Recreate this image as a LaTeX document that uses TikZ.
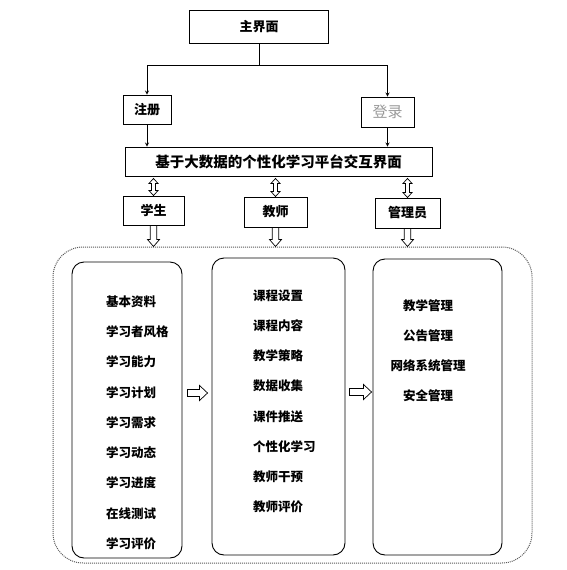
\documentclass[tikz,border=0pt]{standalone}
\usepackage{fontspec}
\setmainfont{Noto Sans CJK SC}
\usepackage{tikz}
\usetikzlibrary{shapes,arrows,positioning,calc}

\begin{document}
\begin{tikzpicture}[x=1pt, y=-1pt]
\tikzstyle{box} = [rectangle, draw, line width=0.9pt, inner sep=0pt, font=\bfseries\fontsize{13}{15}\selectfont]
\tikzstyle{panel} = [rectangle, draw, line width=0.9pt, rounded corners=12pt]
\tikzstyle{items} = [inner sep=0pt, align=left, font=\bfseries\fontsize{12.5}{30.25}\selectfont]
\tikzstyle{arrow} = [line width=0.8pt,->,>=stealth]
\tikzstyle{updown} = [line width=0.7pt, to path={let \p1=(\tikztostart), \p2=(\tikztotarget) in
  (\x1,\y1-2pt) -- (\x1+4.5pt,\y1-7pt) -- (\x1+2pt,\y1-7pt) -- (\x1+2pt,\y2+5pt) -- (\x1+4.5pt,\y2+5pt) -- (\x1,\y2)
  -- (\x1-4.5pt,\y2+5pt) -- (\x1-2pt,\y2+5pt) -- (\x1-2pt,\y1-7pt) -- (\x1-4.5pt,\y1-7pt) -- cycle}]
\tikzstyle{downblock} = [line width=0.7pt, to path={let \p1=(\tikztostart), \p2=(\tikztotarget) in
  (\x1-3.3pt,\y1) -- (\x1-3.3pt,\y2+7pt) -- (\x1-6pt,\y2+7pt) -- (\x1,\y2) -- (\x1+6pt,\y2+7pt) -- (\x1+3.3pt,\y2+7pt) -- (\x1+3.3pt,\y1) -- cycle}]
\tikzstyle{rightblock} = [line width=0.7pt, to path={let \p1=(\tikztostart), \p2=(\tikztotarget) in
  (\x1,\y1+3.5pt) -- (\x2-8pt,\y1+3.5pt) -- (\x2-8pt,\y1+7.5pt) -- (\x2,\y1) -- (\x2-8pt,\y1-7.5pt) -- (\x2-8pt,\y1-3.5pt) -- (\x1,\y1-3.5pt) -- cycle}]

\useasboundingbox (0,0) rectangle (566,570);

% top part
\node[box, minimum width=139pt, minimum height=33pt] (main) at (259,26.5) {主界面};
\node[box, minimum width=48pt, minimum height=29pt] (reg) at (147,109.5) {注册};
\node[box, minimum width=53pt, minimum height=30pt, font=\fontsize{15}{17}\selectfont, text=gray!80] (login) at (387.5,112) {登录};
\node[box, minimum width=307pt, minimum height=29pt, font=\bfseries\fontsize{14.5}{17}\selectfont] (big) at (278.5,161.5) {基于大数据的个性化学习平台交互界面};

% roles
\node[box, minimum width=61pt, minimum height=29pt] (stu) at (153.5,210.5) {学生};
\node[box, minimum width=63pt, minimum height=30pt] (tea) at (275.5,212) {教师};
\node[box, minimum width=65pt, minimum height=30pt] (adm) at (407.5,213) {管理员};

% function panels
\node[draw=gray!70!black, densely dotted, line width=1pt, rounded corners=30pt, minimum width=479pt, minimum height=316pt] (outer) at (292.5,405) {};
\node[panel, minimum width=110pt, minimum height=296pt] (stubox) at (127,410) {};
\node[panel, minimum width=133pt, minimum height=297pt] (teabox) at (278.5,406.5) {};
\node[panel, minimum width=129pt, minimum height=296pt] (admbox) at (437.5,407) {};

\node[items, anchor=north west] (stulist) at (106,295.4) {基本资料\\学习者风格\\学习能力\\学习计划\\学习需求\\学习动态\\学习进度\\在线测试\\学习评价};
\node[items, anchor=north west] (tealist) at (253,289.4) {课程设置\\课程内容\\教学策略\\数据收集\\课件推送\\个性化学习\\教师干预\\教师评价};
\node[items, anchor=north, align=center, font=\bfseries\fontsize{12.5}{30}\selectfont] (admlist) at (428,299.4) {教学管理\\公告管理\\网络系统管理\\安全管理};

% connectors
\draw[arrow] (main.south) -- ++(0,22) -| (reg.north);
\draw[arrow] (main.south) -- ++(0,22) -| (login.north);
\draw[arrow] (reg.south) -- (reg.south |- big.north);
\draw[arrow] (login.south) -- (login.south |- big.north);

\draw[updown] (stu.north |- big.south) to (stu.north);
\draw[updown] (tea.north |- big.south) to (tea.north);
\draw[updown] (adm.north |- big.south) to (adm.north);

\draw[downblock] (stu.south) to (stu.south |- outer.north);
\draw[downblock] (tea.south) to (tea.south |- outer.north);
\draw[downblock] (adm.south) to (adm.south |- outer.north);

\draw[rightblock] ([xshift=5pt,yshift=17pt]stubox.east) to ([xshift=-4pt]teabox.west);
\draw[rightblock] ([xshift=4pt,yshift=14.5pt]teabox.east) to ([xshift=-1pt]admbox.west);
\end{tikzpicture}
\end{document}
